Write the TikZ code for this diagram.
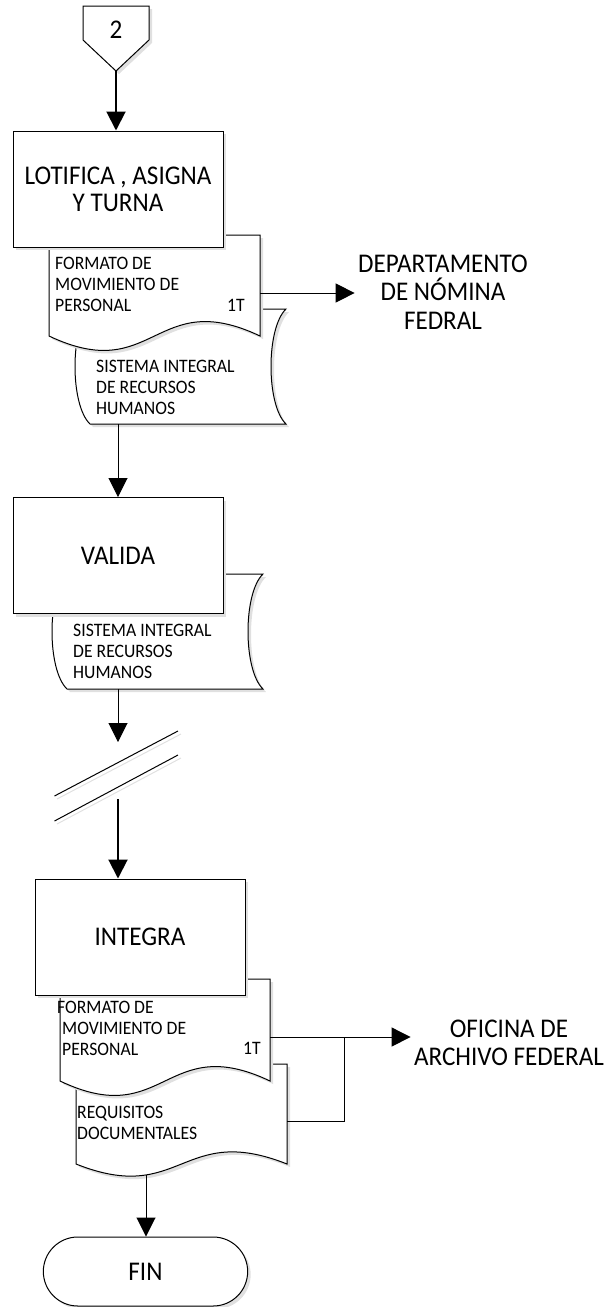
\documentclass[tikz,border=0pt]{standalone}
\usepackage{fontspec}
\setmainfont{Carlito}[FakeStretch=0.93]
\usetikzlibrary{arrows.meta,shapes.misc,shadows}

\begin{document}
\begin{tikzpicture}[x=1pt, y=-1pt,
		sombra/.style={drop shadow={shadow xshift=3pt, shadow yshift=-3pt, fill=black!12, opacity=1}},
		forma/.style={draw, fill=white, line width=1pt, sombra},
		caja/.style={forma, minimum width=210pt, minimum height=116pt, align=center, font=\fontsize{27}{27}\selectfont},
		chico/.style={align=left, inner sep=0pt, font=\fontsize{19}{21}\selectfont},
		grande/.style={align=center, font=\fontsize{27}{28.5}\selectfont},
		linea/.style={line width=1pt},
		flecha/.style={linea, -{Triangle[length=19pt, width=19pt]}},
		flechag/.style={flecha, line width=2pt}]
	\useasboundingbox (0, 0) rectangle (611, 1307);

	% conector 2
	\draw [forma] (83, 6) -- (149, 6) -- (149, 40) -- (116, 71) -- (83, 40) -- cycle;
	\node [grande] (con) at (116, 30) {2};
	\coordinate (conp) at (116, 71);

	% lotifica
	\draw [forma] (90, 309) -- (286, 309) .. controls (266, 328) and (266, 405) .. (286, 424) -- (90, 424) .. controls (70, 405) and (70, 328) .. (90, 309) -- cycle;
	\node [chico, anchor=west] (sis1) at (96, 387) {SISTEMA INTEGRAL\\DE RECURSOS\\HUMANOS};
	\draw [forma] (49, 235) -- (260, 235) -- (260, 336) .. controls (154.5, 286) and (154.5, 386) .. (49, 336) -- cycle;
	\node [chico, anchor=west] (fmt1) at (55, 284) {FORMATO DE\\MOVIMIENTO DE\\PERSONAL};
	\node [chico, anchor=east] (fmt1t) at (245, 305) {1T};
	\node [caja] (lot) at (118, 189) {LOTIFICA , ASIGNA\\Y TURNA};
	\coordinate (fmt1r) at (260, 293);
	\coordinate (sis1b) at (118, 424);
	\node [grande] (dep) at (443, 292) {DEPARTAMENTO\\DE NÓMINA\\FEDRAL};

	% valida
	\draw [forma] (67, 574) -- (263, 574) .. controls (243, 593) and (243, 670) .. (263, 689) -- (67, 689) .. controls (47, 670) and (47, 593) .. (67, 574) -- cycle;
	\node [chico, anchor=west] (sis2) at (73, 651) {SISTEMA INTEGRAL\\DE RECURSOS\\HUMANOS};
	\node [caja] (val) at (118, 555.5) {VALIDA};
	\coordinate (sis2b) at (118, 689);
	\coordinate (brk1) at (118, 742);

	% corte
	\draw [black!12, linea] (57, 799) -- (181, 734) (57, 824) -- (181, 758);
	\draw [linea] (54.5, 796) -- (178, 731) (54.5, 821) -- (178, 755);
	\coordinate (brk2) at (118, 799);

	% integra
	\draw [forma] (76, 1064) -- (287, 1064) -- (287, 1164) .. controls (181.5, 1122) and (181.5, 1206) .. (76, 1164) -- cycle;
	\node [chico, anchor=west] (req) at (77, 1123) {REQUISITOS\\DOCUMENTALES};
	\draw [forma] (60, 979) -- (270, 979) -- (270, 1081) .. controls (165, 1031) and (165, 1131) .. (60, 1081) -- cycle;
	\node [chico, anchor=west] (fmt2) at (62, 1028) {\hspace*{-5pt}FORMATO DE\\MOVIMIENTO DE\\PERSONAL};
	\node [chico, anchor=east] (fmt2t) at (261, 1048) {1T};
	\node [caja] (int) at (140, 937) {INTEGRA};
	\coordinate (fmt2r) at (270, 1037);
	\coordinate (reqr) at (287, 1121);
	\coordinate (jun) at (344, 1037);
	\coordinate (reqb) at (146, 1175);
	\node [grande] (ofi) at (509, 1043) {OFICINA DE\\ARCHIVO FEDERAL};

	% fin
	\node [forma, rounded rectangle, minimum width=211pt, minimum height=69pt, font=\fontsize{27}{27}\selectfont] (fin) at (145.5, 1271.5) {FIN};

	\draw [flechag] (conp) -- (conp |- lot.north);
	\draw [flecha] (fmt1r) -- (fmt1r -| dep.west);
	\draw [flecha] (sis1b) -- (sis1b |- val.north);
	\draw [flecha] (sis2b) -- (brk1);
	\draw [flechag] (brk2) -- (brk2 |- int.north);
	\draw [flecha] (fmt2r) -- (fmt2r -| ofi.west);
	\draw [linea] (reqr) -| (jun);
	\draw [flecha] (reqb) -- (reqb |- fin.north);
\end{tikzpicture}
\end{document}
